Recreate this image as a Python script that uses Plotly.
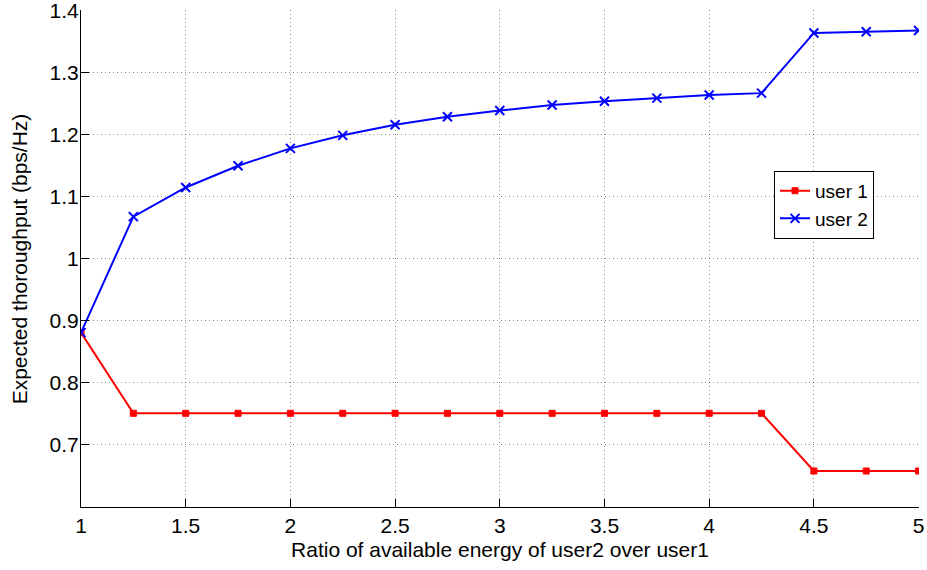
import plotly.graph_objects as go

ratio = [1, 1.25, 1.5, 1.75, 2, 2.25, 2.5, 2.75, 3, 3.25, 3.5, 3.75, 4, 4.25, 4.5, 4.75, 5]
user1 = [0.881, 0.751, 0.751, 0.751, 0.751, 0.751, 0.751, 0.751, 0.751, 0.751, 0.751,
         0.751, 0.751, 0.751, 0.658, 0.658, 0.658]
user2 = [0.881, 1.068, 1.115, 1.150, 1.178, 1.199, 1.216, 1.229, 1.239, 1.248, 1.254,
         1.259, 1.264, 1.267, 1.364, 1.366, 1.368]

x_ticks = [1, 1.5, 2, 2.5, 3, 3.5, 4, 4.5, 5]
x_ticktext = ["1", "1.5", "2", "2.5", "3", "3.5", "4", "4.5", "5"]
y_ticks = [0.7, 0.8, 0.9, 1.0, 1.1, 1.2, 1.3, 1.4]
y_ticktext = ["0.7", "0.8", "0.9", "1", "1.1", "1.2", "1.3", "1.4"]

FONT = "Liberation Sans, Arial, Helvetica, sans-serif"
FS = 21

fig = go.Figure()
fig.add_trace(go.Scatter(
    x=ratio, y=user1, mode="lines+markers", name="user 1",
    line=dict(color="#ff0000", width=2),
    marker=dict(symbol="square", size=6, color="#ff0000",
                line=dict(color="#ff0000", width=1)),
))
fig.add_trace(go.Scatter(
    x=ratio, y=user2, mode="lines+markers", name="user 2",
    line=dict(color="#0000ff", width=2),
    marker=dict(symbol="x-thin", size=9, color="#0000ff",
                line=dict(color="#0000ff", width=2)),
))

axis_common = dict(
    showline=True, linecolor="black", linewidth=1,
    ticks="inside", ticklen=8, tickcolor="black", tickwidth=1,
    showgrid=True, gridcolor="rgba(0,0,0,0.45)", griddash="1px,3px", gridwidth=1,
    zeroline=False, mirror=False, automargin=False,
    ticklabeloverflow="allow",
    tickfont=dict(family=FONT, size=FS, color="black"),
)

fig.update_layout(
    width=927, height=570,
    margin=dict(l=81, r=8, t=10, b=63),
    paper_bgcolor="white", plot_bgcolor="white",
    font=dict(family=FONT, size=FS, color="black"),
    showlegend=True,
    legend=dict(
        x=0.827, y=0.608, xanchor="left", yanchor="middle",
        bgcolor="white", bordercolor="black", borderwidth=1,
        font=dict(family=FONT, size=19, color="black"),
        itemwidth=30, tracegroupgap=0,
    ),
    xaxis=dict(
        range=[1, 5.002], tickvals=x_ticks, ticktext=x_ticktext,
        title=dict(text="Ratio of available energy of user2 over user1",
                   font=dict(family=FONT, size=FS), standoff=6),
        **axis_common,
    ),
    yaxis=dict(
        range=[0.6, 1.401], tickvals=y_ticks, ticktext=y_ticktext,
        ticklabelstandoff=-3,
        **axis_common,
    ),
    annotations=[dict(
        text="Expected thoroughput (bps/Hz)", textangle=-90,
        xref="paper", yref="paper", x=-0.073, y=0.5,
        xanchor="center", yanchor="middle", showarrow=False,
        font=dict(family=FONT, size=FS, color="black"),
    )],
)

fig.write_html("out.html", config={"displayModeBar": False},
               post_script="document.body.style.margin='0';document.body.style.padding='0';")
